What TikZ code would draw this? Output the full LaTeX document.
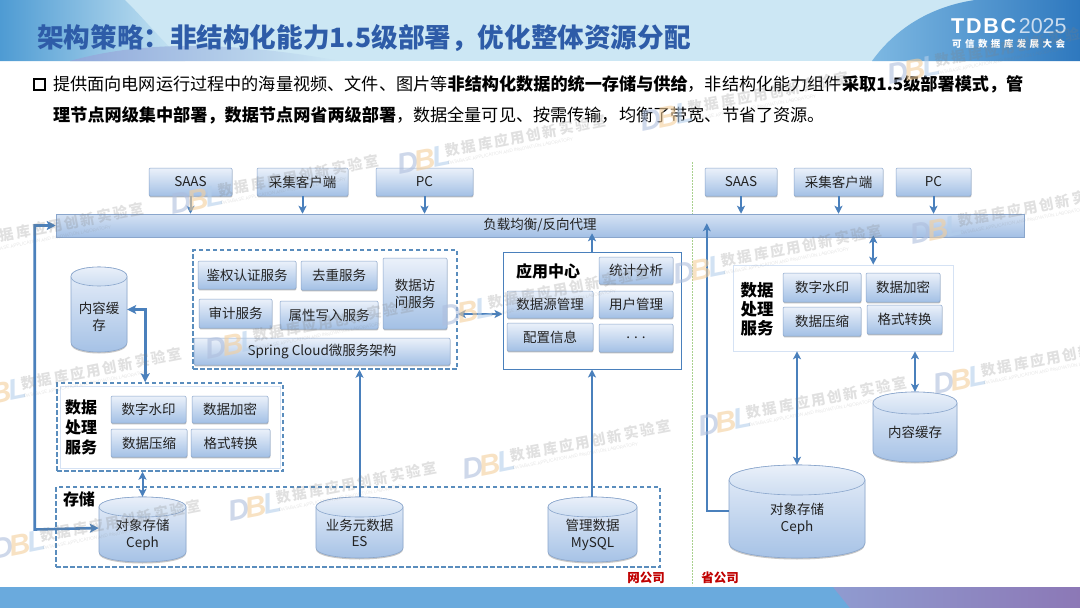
\documentclass[tikz,border=0pt]{standalone}
\usepackage{fontspec}
\setmainfont{Noto Sans CJK SC}
\newfontfamily\lgfont{Liberation Sans}
\usetikzlibrary{arrows.meta,shadows,calc}
\definecolor{bandbg}{HTML}{CCE7F4}
\definecolor{wedge}{HTML}{4E9BD3}
\definecolor{humpa}{HTML}{8FA8DA}
\definecolor{humpb}{HTML}{C8A8D2}
\definecolor{domea}{HTML}{7DB8E2}
\definecolor{domeb}{HTML}{2E78BE}
\definecolor{footblue}{HTML}{6AAADD}
\definecolor{foota}{HTML}{8F9BD0}
\definecolor{footb}{HTML}{8C78B6}
\definecolor{titleblue}{HTML}{2E5CA8}
\definecolor{boxtop}{HTML}{EBF1FA}
\definecolor{boxbot}{HTML}{A3C0E5}
\definecolor{boxedge}{HTML}{8AA6CC}
\definecolor{linkblue}{HTML}{4A80BC}
\definecolor{dashblue}{HTML}{5A8DBD}
\definecolor{txt}{HTML}{222222}
\definecolor{redlabel}{HTML}{C00000}
\definecolor{divgreen}{HTML}{A9D18E}
\definecolor{wmd}{HTML}{AEBEDD}
\definecolor{wmb}{HTML}{F4CF9C}
\definecolor{wml}{HTML}{B4CFEC}
\tikzset{
  svc/.style={draw=boxedge,line width=.5pt,rounded corners=1.2pt,top color=boxtop,bottom color=boxbot,
    text=txt,inner sep=0pt,align=center,font=\fontsize{13.5}{17}\selectfont,
    drop shadow={shadow xshift=.4pt,shadow yshift=-1.4pt,fill=black!55,opacity=.45}},
  dashbox/.style={draw=dashblue,line width=1.5pt,dash pattern=on 4.5pt off 2.5pt,fill=none,inner sep=0pt},
  plainbox/.style={draw=#1,fill=white,inner sep=0pt},
  lbl/.style={text=black,font=\fontsize{16}{19}\bfseries\selectfont,align=center,inner sep=0pt},
  redtag/.style={text=redlabel,font=\fontsize{12.5}{15}\bfseries\selectfont,inner sep=0pt},
  cyltext/.style={text=txt,font=\fontsize{13.5}{16.5}\selectfont,align=center,inner sep=0pt},
  link/.style={draw=linkblue,line width=2pt,-{Stealth[length=8pt,width=8pt,inset=2pt]}},
  twolink/.style={draw=linkblue,line width=2pt,{Stealth[length=8pt,width=8pt,inset=2pt]}-{Stealth[length=8pt,width=8pt,inset=2pt]}},
  fatlink/.style={draw=linkblue,line width=2.6pt,{Stealth[length=9pt,width=9pt,inset=2pt]}-{Stealth[length=9pt,width=9pt,inset=2pt]}},
  cylbody/.style={draw=boxedge,line width=.6pt,top color=boxtop,bottom color=boxbot,
    drop shadow={shadow xshift=0pt,shadow yshift=-1.5pt,fill=black!55,opacity=.4}},
  cylcap/.style={draw=boxedge,line width=.6pt,top color=boxtop!80!white,bottom color=boxbot!60!white},
  body/.style={anchor=west,text=black,inner sep=0pt,font=\fontsize{17.15}{20}\selectfont},
}
% rectangle by its corners
\newcommand\rbox[6]{\node[#1,minimum width={(#4-#2)*1pt},minimum height={(#5-#3)*1pt}] (#6) at ({(#2+#4)/2},{(#3+#5)/2})}
% cylinder: name, x1,y1,x2,y2,ry, text y, text
\newcommand\cyl[8]{%
  \path[cylbody] ({#2},{#3+#6}) -- ({#2},{#5-#6}) .. controls ({#2},{#5+.333*#6}) and ({#4},{#5+.333*#6}) .. ({#4},{#5-#6})
     -- ({#4},{#3+#6}) .. controls ({#4},{#3-.333*#6}) and ({#2},{#3-.333*#6}) .. cycle;
  \path[cylcap] ({#2},{#3+#6}) .. controls ({#2},{#3+2.333*#6}) and ({#4},{#3+2.333*#6}) .. ({#4},{#3+#6})
     .. controls ({#4},{#3-.333*#6}) and ({#2},{#3-.333*#6}) .. cycle;
  \node[minimum width={(#4-#2)*1pt},minimum height={(#5-#3)*1pt},inner sep=0pt] (#1) at ({(#2+#4)/2},{(#3+#5)/2}) {};
  \node[cyltext] (#1t) at ({(#2+#4)/2},#7) {#8};
}
\begin{document}
\begin{tikzpicture}[x=1pt,y=-1pt]
\useasboundingbox (0,0) rectangle (1080,608);
\fill[white] (0,0) rectangle (1080,608);
% header band
\fill[bandbg] (0,0) rectangle (1080,61);
\path[left color=wedge,right color=bandbg] (0,0) -- (125,0) .. controls (150,25) and (165,45) .. (185,61) -- (0,61) -- cycle;
\path[left color=humpa,middle color=humpb,right color=bandbg] (70,61) .. controls (130,44) and (215,38) .. (340,61) -- cycle;
\path[left color=domea,right color=domeb] (872,61) .. controls (900,22) and (940,5) .. (975,0) -- (1080,0) -- (1080,61) -- cycle;
\node[anchor=west,text=titleblue,inner sep=0pt,font=\fontsize{26.6}{30}\bfseries\selectfont] (title) at (37,38) {架构策略：非结构化能力1.5级部署，优化整体资源分配};
\node[anchor=west,text=white,inner sep=0pt,font=\lgfont\fontsize{21.5}{24}\selectfont] (logoa) at (951,26) {\addfontfeature{LetterSpace=8}\textbf{TDBC}\hspace{1pt}\addfontfeature{LetterSpace=0}\textcolor{white!75!domeb}{2025}};
\node[anchor=west,text=white,inner sep=0pt,font=\fontsize{9.5}{11}\bfseries\selectfont] (logob) at (952,44) {\addfontfeature{LetterSpace=36}可信数据库发展大会};
% footer band
\fill[footblue] (0,587) rectangle (850,608);
\path[left color=foota,right color=footb] (833,587) -- (1080,587) -- (1080,608) -- (850,608) -- cycle;
% bullet text
\rbox{draw=black,line width=2pt,fill=white,inner sep=0pt}{34}{79}{45}{90}{bullet} {};
\node[body] (l1) at (53,84) {提供面向电网运行过程中的海量视频、文件、图片等\textbf{非结构化数据的统一存储与供给}，非结构化能力组件\textbf{采取1.5级部署模式，管}};
\node[body] (l2) at (53,115) {\textbf{理节点网级集中部署，数据节点网省两级部署}，数据全量可见、按需传输，均衡了带宽、节省了资源。};
% divider
\draw[divgreen,line width=.9pt,dash pattern=on 2pt off 1pt] (692,162) coordinate (d1) -- (692,585) coordinate (d2);
% clients + bar
\rbox{svc}{149}{168}{232}{196}{saas} {SAAS};
\rbox{svc}{257}{168}{348}{196}{cjk} {采集客户端};
\rbox{svc}{376}{168}{473}{196}{pc} {PC};
\rbox{svc}{705}{168}{777}{196}{saasr} {SAAS};
\rbox{svc}{794}{168}{883}{196}{cjkr} {采集客户端};
\rbox{svc}{896}{168}{971}{196}{pcr} {PC};
\rbox{svc,rounded corners=0pt,top color=boxtop!70!boxbot}{56}{214}{1024}{237}{bar} {负载均衡/反向代理};
% service box
\rbox{dashbox}{193}{250}{457}{369}{svcbox} {};
\rbox{svc}{198}{261}{296}{289}{auth} {鉴权认证服务};
\rbox{svc}{301}{261}{377}{290}{dedup} {去重服务};
\rbox{svc}{383}{258}{447}{329}{access} {数据访\\问服务};
\rbox{svc}{199}{299}{272}{328}{audit} {审计服务};
\rbox{svc}{280}{301}{378}{329}{attr} {属性写入服务};
\rbox{svc}{194}{338}{450}{365}{spring} {Spring Cloud微服务架构};
% app centre
\rbox{plainbox=linkblue,line width=1pt}{503}{252}{681}{369}{app} {};
\node[lbl] (applbl) at (548,271) {应用中心};
\rbox{svc}{599}{257}{673}{284}{stat} {统计分析};
\rbox{svc}{507}{291}{593}{318}{dsm} {数据源管理};
\rbox{svc}{599}{291}{673}{318}{user} {用户管理};
\rbox{svc}{507}{323}{593}{351}{conf} {配置信息};
\rbox{svc}{599}{324}{673}{352}{more} {. . .};
% left data processing
\rbox{plainbox=boxtop!70!boxbot,line width=.6pt}{60}{386}{280}{468}{dpin} {};
\rbox{dashbox}{57}{383}{283}{471}{dp} {};
\node[lbl] (dplbl) at (81,427) {数据\\[1pt]处理\\[1pt]服务};
\rbox{svc}{111}{396}{186}{423}{wm1b} {数字水印};
\rbox{svc}{192}{396}{268}{423}{enc} {数据加密};
\rbox{svc}{111}{429}{187}{457}{zip} {数据压缩};
\rbox{svc}{191}{429}{270}{457}{fmt} {格式转换};
% storage
\rbox{dashbox}{56}{487}{660}{567}{store} {};
\node[lbl] (storelbl) at (79,499) {存储};
\node[redtag] (wgs) at (646,578) {网公司};
\node[redtag] (sgs) at (720,578) {省公司};
\cyl{cache}{71}{267}{127}{352}{9.5}{317}{内容缓\\存}
\cyl{ceph}{99}{497}{186}{562}{10}{535}{对象存储\\Ceph}
\cyl{es}{316}{497}{403}{558}{10}{533}{业务元数据\\ES}
\cyl{mysql}{548}{497}{637}{562}{10}{535}{管理数据\\MySQL}
% right data processing
\rbox{plainbox=boxtop!70!boxbot,line width=.6pt}{733}{265}{953}{351}{rdp} {};
\node[lbl,font=\fontsize{16.5}{19}\bfseries\selectfont] (rdplbl) at (757,309) {数据\\处理\\服务};
\rbox{svc}{783}{273}{861}{302}{rwm} {数字水印};
\rbox{svc}{866}{273}{940}{302}{renc} {数据加密};
\rbox{svc}{783}{307}{861}{336}{rzip} {数据压缩};
\rbox{svc}{867}{305}{942}{334}{rfmt} {格式转换};
\cyl{rcache}{873}{392}{957}{462}{11}{432}{内容缓存}
\cyl{rceph}{729}{465}{865}{558}{15}{519}{对象存储\\Ceph}
% connectors
\foreach \n in {saas,cjk,pc,saasr,cjkr,pcr} \draw[link] (\n.south) -- (\n.south|-bar.north);
\draw[fatlink] (bar.west) -- ++(-21,0) coordinate (lft) -- (lft|-ceph.center) -- ($(ceph.west)+(0,-1.5)$);
\draw[fatlink] (cache.east) -- ++(18,0) coordinate (cc) -- (cc|-dp.north);
\draw[twolink] (dp.south-|ceph.north) ++(0,0) -- (ceph.north);
\draw[link] (es.north) -- (es.north|-svcbox.south);
\draw[link] (mysql.north-|app.south) -- (app.south);
\draw[link] (app.north) -- ($(app.north|-bar.south)+(0,-4)$);
\draw[twolink] (svcbox.east|-0,314) -- (app.west|-0,314);
\draw[link,line width=2.6pt] (rceph.west|-0,511) -- ++(-22,0) coordinate (rl) -- ($(rl|-bar.south)+(0,-14)$);
\draw[twolink] (rdp.north-|cjkr.east) ++(-10,0) -- ($(bar.south-|cjkr.east)+(-10,-2)$);
\draw[twolink] (rceph.north) -- (rceph.north|-rdp.south);
\draw[twolink] (rcache.north) -- (rcache.north|-rdp.south);
% watermarks
\foreach \px/\py [count=\k] in {-65/253,170/205,397/165,640/122,887/75,-27/398,205/350,440/317,673/275,910/235,462/470,228/512,-8/550,698/427,933/385}{
  \begin{scope}[shift={(\px,\py)},rotate=11]
    \node[anchor=west,inner sep=0pt,opacity=.6,transform shape,font=\lgfont\fontsize{29}{30}\bfseries\itshape\selectfont] (wmlogo\k) at (0,0) {\textcolor{wmd}{D}\kern-3pt\textcolor{wmb}{B}\kern-3pt\textcolor{wml}{L}};
    \node[anchor=west,inner sep=0pt,opacity=.24,text=gray,transform shape,font=\fontsize{14.5}{16}\bfseries\selectfont] (wmtext\k) at (50,-4) {\addfontfeature{LetterSpace=14}数据库应用创新实验室};
    \node[anchor=west,inner sep=0pt,opacity=.2,text=gray,transform shape,font=\lgfont\fontsize{4.6}{5}\selectfont] (wmsub\k) at (50,8) {DATABASE APPLICATION AND INNOVATION LABORATORY};
  \end{scope}
}
\end{tikzpicture}
\end{document}
